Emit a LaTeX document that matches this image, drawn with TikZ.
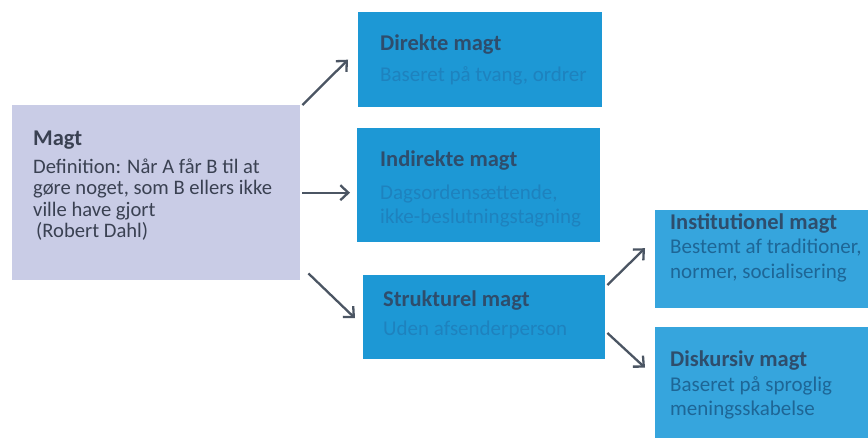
\documentclass[tikz,border=0pt]{standalone}
\usepackage{fontspec}
\setmainfont{Carlito}
\usetikzlibrary{arrows.meta,calc}
\definecolor{boxblue}{HTML}{1D98D5}
\definecolor{boxlight}{HTML}{36A5DD}
\definecolor{lav}{HTML}{C9CCE6}
\definecolor{titledark}{HTML}{2E4D6C}
\definecolor{bodyblue}{HTML}{1E82BE}
\definecolor{bodydeep}{HTML}{1E6696}
\definecolor{magttext}{HTML}{3A4152}
\definecolor{arrowgray}{HTML}{4B5563}
\newcommand{\ttl}[1]{{\fontsize{22.5}{24}\selectfont\bfseries\color{titledark}#1}}
\tikzset{
  bluebox/.style={draw=none, fill=boxblue, rectangle, inner sep=0pt, anchor=north west},
  lightbox/.style={draw=none, fill=boxlight, rectangle, inner sep=0pt, anchor=north west},
  lavbox/.style={draw=none, fill=lav, rectangle, inner sep=0pt, anchor=north west},
  boxtext/.style={anchor=north west, align=left, inner sep=0pt, font=\fontsize{21}{24.5}\selectfont},
  conn/.style={draw=arrowgray, line width=2.3pt, -{Straight Barb[length=8pt,width=15pt]}}
}
\begin{document}
\begin{tikzpicture}[x=1pt,y=-1pt]
\useasboundingbox (0,0) rectangle (868,438);
\fill[white] (0,0) rectangle (868,438);
% boxes
\node[lavbox, minimum width=288pt, minimum height=175pt] (magt) at (12,105) {};
\node[bluebox, minimum width=244pt, minimum height=95pt] (direkte) at (358,12) {};
\node[bluebox, minimum width=243pt, minimum height=114pt] (indirekte) at (357,128) {};
\node[bluebox, minimum width=242pt, minimum height=84pt] (strukturel) at (363,275) {};
\node[lightbox, minimum width=213pt, minimum height=98pt] (institutionel) at (655,210) {};
\node[lightbox, minimum width=213pt, minimum height=111pt] (diskursiv) at (655,327) {};
% texts
\node[boxtext, text=magttext, font=\fontsize{20.6}{21.5}\selectfont] (magtlbl) at (33,131)
  {{\fontsize{22.5}{24}\selectfont\bfseries Magt}\\[6pt]Definition: Når A får B til at\\gøre noget, som B ellers ikke\\ville have gjort\\\hspace{3pt}(Robert Dahl)};
\node[boxtext] (direktelbl) at ($(direkte.north west)+(22,23)$)
  {\ttl{Direkte magt}\\[6pt]\textcolor{bodyblue}{Baseret på tvang, ordrer}};
\node[boxtext] (indirektelbl) at ($(indirekte.north west)+(23,23)$)
  {\ttl{Indirekte magt}\\[8pt]\textcolor{bodyblue}{Dagsordensættende,}\\\textcolor{bodyblue}{ikke-beslutningstagning}};
\node[boxtext] (strukturellbl) at ($(strukturel.north west)+(20,16)$)
  {\ttl{Strukturel magt}\\[4pt]\textcolor{bodyblue}{Uden afsenderperson}};
\node[boxtext] (institutionellbl) at ($(institutionel.north west)+(15,3)$)
  {\ttl{Institutionel magt}\\\textcolor{bodydeep}{Bestemt af traditioner,}\\\textcolor{bodydeep}{normer, socialisering}};
\node[boxtext] (diskursivlbl) at ($(diskursiv.north west)+(15,24)$)
  {\ttl{Diskursiv magt}\\\textcolor{bodydeep}{Baseret på sproglig}\\\textcolor{bodydeep}{meningsskabelse}};
% connectors
\draw[conn] ($(magt.north east)+(2,0)$) -- ($(direkte.west)+(-10,0)$);
\draw[conn] ($(magt.east)+(2,0)$) -- ($(magt.east -| indirekte.west)+(-7,0)$);
\draw[conn] ($(magt.south east)+(8,-7)$) -- ($(strukturel.west)+(-8,1)$);
\draw[conn] ($(strukturel.north east)+(2,10)$) -- ($(institutionel.west)+(-10,-11)$);
\draw[conn] ($(strukturel.north east)+(2,58)$) -- ($(diskursiv.west)+(-10,-15)$);
\end{tikzpicture}
\end{document}
